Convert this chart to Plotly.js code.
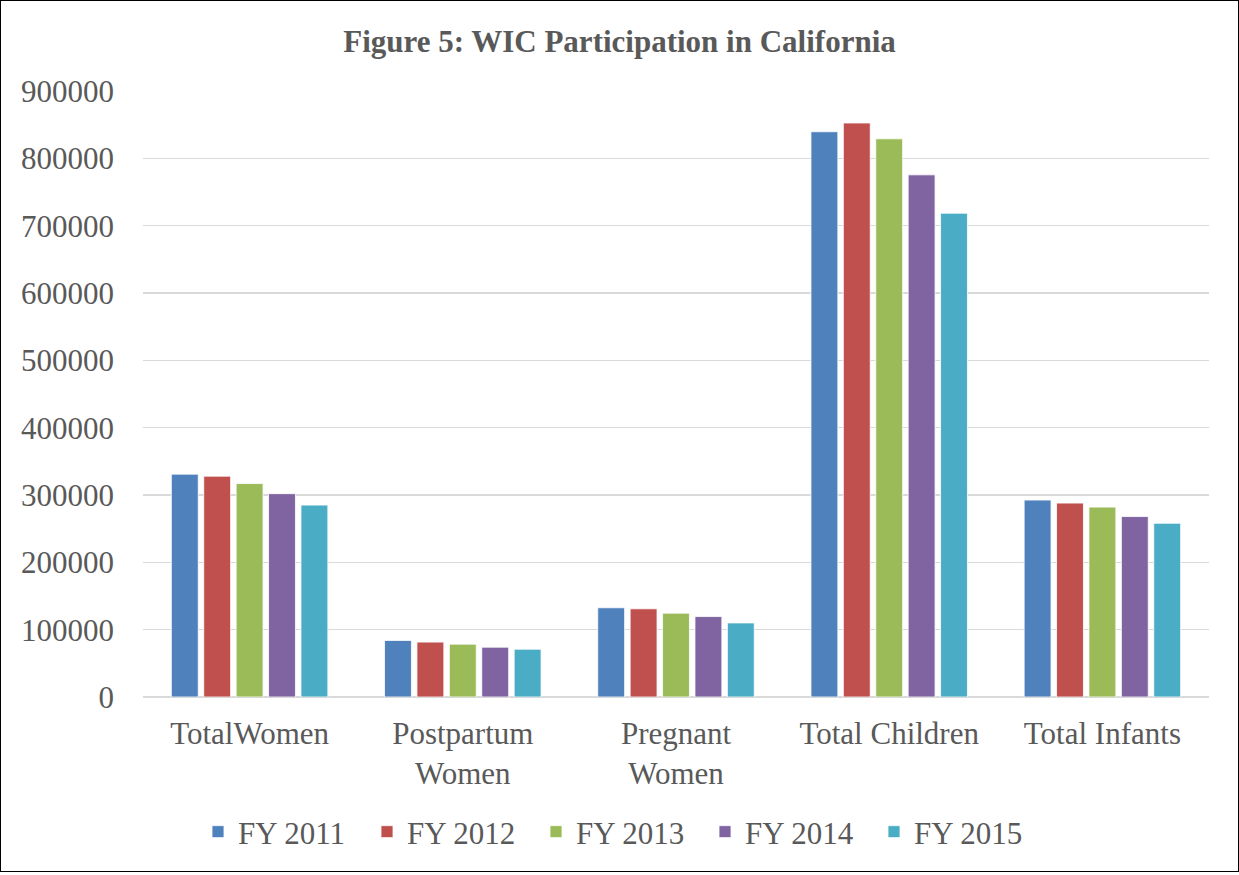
<!DOCTYPE html>
<html>
<head>
<meta charset="utf-8">
<script src="https://cdn.plot.ly/plotly-3.0.1.min.js"></script>
<style>
html,body{margin:0;padding:0;background:#fff;}
#chart{width:1237px;height:870px;border:1px solid #000;}
</style>
</head>
<body>
<div id="chart"></div>
<script>
const categories = ["TotalWomen", "Postpartum<br>Women", "Pregnant<br>Women", "Total Children", "Total Infants"];
const seriesNames = ["FY 2011", "FY 2012", "FY 2013", "FY 2014", "FY 2015"];
const fy2011 = [331000, 84000, 132500, 839500, 292500];
const fy2012 = [328000, 81500, 131000, 852500, 288000];
const fy2013 = [317000, 78500, 124500, 829000, 282000];
const fy2014 = [302000, 74000, 119500, 775500, 268000];
const fy2015 = [285000, 71000, 110000, 718500, 258000];
const colors = ["#4F81BD", "#C0504D", "#9BBB59", "#8064A2", "#4BACC6"];
const yTicks = [0, 100000, 200000, 300000, 400000, 500000, 600000, 700000, 800000, 900000];

const allSeries = [fy2011, fy2012, fy2013, fy2014, fy2015];
const font = '"Liberation Serif", "Times New Roman", serif';

const traces = allSeries.map((vals, i) => ({
  type: 'bar',
  name: seriesNames[i],
  x: categories,
  y: vals,
  marker: {color: colors[i], line: {color: '#ffffff', width: 0.8}},
  hoverinfo: 'x+y+name'
}));

const plotL = 142, plotR = 29, W = 1237;
const plotW = W - plotL - plotR;

const layout = {
  width: W,
  height: 870,
  margin: {l: plotL, r: plotR, t: 90, b: 174},
  paper_bgcolor: '#ffffff',
  plot_bgcolor: '#ffffff',
  font: {family: font, color: '#595959', size: 31},
  title: {
    text: '<b>Figure 5: WIC Participation in California</b>',
    font: {family: font, size: 31, color: '#595959'},
    x: 0.5, xref: 'container', xanchor: 'center',
    y: 1 - 40/870, yref: 'container', yanchor: 'middle'
  },
  barmode: 'group',
  bargap: 0.24,
  bargroupgap: 0.17,
  xaxis: {
    type: 'category',
    automargin: false,
    tickangle: 0,
    showgrid: false,
    showline: false,
    ticks: '',
    tickfont: {family: font, size: 31, color: '#595959'},
    ticklabelstandoff: 15
  },
  yaxis: {
    automargin: false,
    range: [0, 900000],
    tickvals: yTicks,
    ticktext: yTicks.map(String),
    showgrid: true,
    gridcolor: '#D9D9D9',
    gridwidth: 1.5,
    zeroline: true,
    zerolinecolor: '#D9D9D9',
    zerolinewidth: 1.5,
    showline: false,
    ticks: '',
    tickfont: {family: font, size: 31, color: '#595959'},
    ticklabelstandoff: 28
  },
  showlegend: true,
  legend: {
    orientation: 'h',
    x: (619.5 - plotL) / plotW, xanchor: 'center',
    y: (697 - 832) / 606, yanchor: 'middle',
    font: {family: font, size: 31, color: '#595959'},
    itemwidth: 30,
    entrywidth: 124,
    traceorder: 'normal'
  }
};

Plotly.newPlot('chart', traces, layout, {displayModeBar: false, staticPlot: true});
</script>
</body>
</html>
